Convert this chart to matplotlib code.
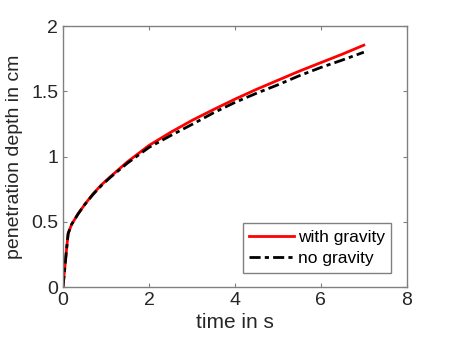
import matplotlib
matplotlib.use('Agg')
import matplotlib.pyplot as plt

# time in s
t = [0, 0.04, 0.08, 0.12, 0.2, 0.35, 0.5, 0.7, 0.9, 1.1, 1.5, 2.0, 2.5, 3.0, 3.5, 4.0, 4.5, 5.0, 5.5, 6.0, 6.5, 7.0]
# penetration depth in cm
with_gravity = [0, 0.14, 0.28, 0.41, 0.48, 0.56, 0.63, 0.715, 0.785, 0.845, 0.96, 1.085, 1.185, 1.277, 1.36, 1.44, 1.515, 1.585, 1.655, 1.72, 1.785, 1.854]
no_gravity = [0, 0.14, 0.28, 0.41, 0.48, 0.56, 0.63, 0.71, 0.78, 0.84, 0.95, 1.07, 1.16, 1.246, 1.335, 1.415, 1.485, 1.55, 1.62, 1.683, 1.74, 1.80]

plt.rcParams['font.family'] = ['Liberation Sans', 'DejaVu Sans']

fig = plt.figure(figsize=(4.5, 3.46), dpi=100)
ax = fig.add_axes([0.14, 0.1705, 0.764, 0.754])

ax.plot(t, with_gravity, color='#ff0000', linewidth=2, label='with gravity')
ax.plot(t, no_gravity, color='black', linewidth=2, linestyle=(0, (4, 1.5, 1.5, 1.5)), label='no gravity')

ax.set_xlim(0, 8)
ax.set_ylim(0, 2)
ax.set_xticks([0, 2, 4, 6, 8])
ax.set_yticks([0, 0.5, 1, 1.5, 2])
ax.set_yticklabels(['0', '0.5', '1', '1.5', '2'])
ax.set_xlabel('time in s', fontsize=15, color='#262626', labelpad=3)
ax.set_ylabel('penetration depth in cm', fontsize=14, color='#262626', labelpad=6)
ax.tick_params(direction='in', labelsize=14, length=3, top=True, right=True,
               colors='#808080', labelcolor='#262626')
for s in ax.spines.values():
    s.set_color('#808080')
    s.set_linewidth(1)

leg = ax.legend(loc='lower right', fontsize=12.5, fancybox=False, framealpha=1,
                bbox_to_anchor=(0.955, 0.055), borderaxespad=0,
                handlelength=2.6, handletextpad=0.2, borderpad=0.38, labelspacing=0.35)
leg.get_frame().set_edgecolor('#808080')
leg.get_frame().set_linewidth(1)

plt.savefig('out.png', dpi=100)
plt.close(fig)
